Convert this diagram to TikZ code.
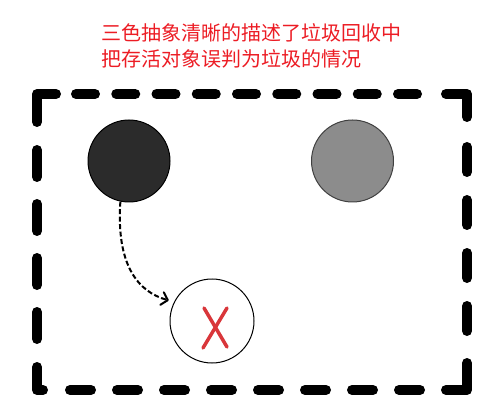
\documentclass[tikz,border=0pt]{standalone}
\usepackage{fontspec}
\usepackage{tikz}
\usepackage{xcolor}
\usetikzlibrary{arrows.meta}
\newfontfamily\cjk{Noto Sans CJK SC}
\definecolor{notered}{HTML}{EC1C24}
\definecolor{crossred}{HTML}{D9363A}
\definecolor{darkobj}{HTML}{2B2B2B}
\definecolor{grayobj}{HTML}{8C8C8C}

\begin{document}
\begin{tikzpicture}[x=1pt,y=-1pt,
	frame/.style={line width=10pt,line cap=round,line join=round},
	obj/.style={circle,draw,line width=1pt,minimum size=82pt,inner sep=0pt},
	ref/.style={dash pattern=on 5pt off 2.5pt,line width=2pt,-{Straight Barb[length=6pt,width=13pt,round]}}]
\useasboundingbox (0,0) rectangle (484,403);
% note
\node[anchor=north west,align=left,text=notered,font=\cjk\fontsize{20}{26.5}\selectfont,inner sep=0pt] (note) at (101,23)
	{三色抽象清晰的描述了垃圾回收中\\把存活对象误判为垃圾的情况};
% corners
\draw[frame] (37,122) -- (37,94) -- (56,94);
\draw[frame] (446,94) -- (467,94) -- (467,117);
\draw[frame] (37,367) -- (37,390) -- (43,390);
\draw[frame] (446,390) -- (467,390) -- (467,363);
% sides
\foreach \x in {76,116.25,...,398}
	{
	\draw[frame] (\x,94) -- (19+\x,94);
	}
\foreach \x in {70,117,...,399}
	{
	\draw[frame] (\x,390) -- (21+\x,390);
	}
\foreach \y in {150,204,...,312}
	{
	\draw[frame] (37,\y) -- (37,27+\y);
	}
\foreach \y in {147,200,...,306}
	{
	\draw[frame] (467,\y) -- (467,25+\y);
	}
% objects
\node[obj,fill=darkobj] (live) at (129,161) {};
\node[obj,fill=grayobj,draw=black!75] (grey) at (352.5,161) {};
\node[obj,fill=white,minimum size=84pt] (miss) at (212,321) {};
\draw[crossred,line width=3.5pt,line cap=round] (204,308) -- (227,347);
\draw[crossred,line width=3.5pt,line cap=round] (227,308) -- (203,348);
% pointer
\draw[ref] (live.258) .. controls (116,265) and (138,292) .. ([shift={(-5,-2)}]miss.154);
\end{tikzpicture}
\end{document}
